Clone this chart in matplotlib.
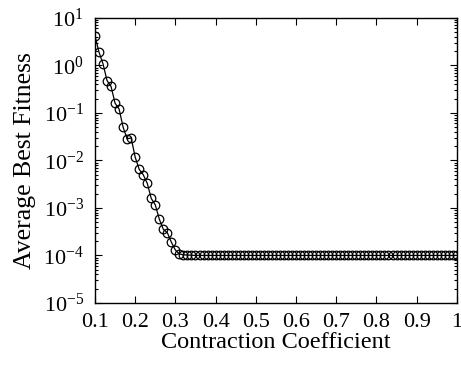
import matplotlib
matplotlib.use("Agg")
import matplotlib.pyplot as plt
from matplotlib.ticker import LogLocator, FixedLocator

plt.rcParams["font.family"] = ["Liberation Serif", "DejaVu Serif"]
plt.rcParams["mathtext.fontset"] = "custom"
plt.rcParams["mathtext.rm"] = "Liberation Serif"
plt.rcParams["mathtext.it"] = "Liberation Serif:italic"

# contraction coefficient 0.10 .. 1.00 step 0.01
coef = [round(0.10 + 0.01 * i, 2) for i in range(91)]

# (log scale)
fitness_head = [
    4.2, 1.9, 1.08, 0.48, 0.36, 0.16, 0.121, 0.050, 0.0284, 0.0298,
    0.0117, 0.0065, 0.0050, 0.0033, 0.00158, 0.00116, 5.8e-4, 3.55e-4,
    3.0e-4, 1.9e-4, 1.3e-4, 1.07e-4, 1.03e-4, 1.02e-4, 1.01e-4,
]
# flat plateau from 0.35 to 1.00
fitness_tail = [
    1.0e-4, 1.0e-4, 1.0e-4, 1.0e-4, 1.0e-4, 1.0e-4, 1.0e-4, 1.0e-4, 1.0e-4, 1.0e-4, 1.0e-4,
    1.0e-4, 1.0e-4, 1.0e-4, 1.0e-4, 1.0e-4, 1.0e-4, 1.0e-4, 1.0e-4, 1.0e-4, 1.0e-4, 1.0e-4,
    1.0e-4, 1.0e-4, 1.0e-4, 1.0e-4, 1.0e-4, 1.0e-4, 1.0e-4, 1.0e-4, 1.0e-4, 1.0e-4, 1.0e-4,
    1.0e-4, 1.0e-4, 1.0e-4, 1.0e-4, 1.0e-4, 1.0e-4, 1.0e-4, 1.0e-4, 1.0e-4, 1.0e-4, 1.0e-4,
    1.0e-4, 1.0e-4, 1.0e-4, 1.0e-4, 1.0e-4, 1.0e-4, 1.0e-4, 1.0e-4, 1.0e-4, 1.0e-4, 1.0e-4,
    1.0e-4, 1.0e-4, 1.0e-4, 1.0e-4, 1.0e-4, 1.0e-4, 1.0e-4, 1.0e-4, 1.0e-4, 1.0e-4, 1.0e-4,
]
fitness = fitness_head + fitness_tail

x_ticks = [0.1, 0.2, 0.3, 0.4, 0.5, 0.6, 0.7, 0.8, 0.9, 1.0]
x_tick_labels = ["0.1", "0.2", "0.3", "0.4", "0.5", "0.6", "0.7", "0.8", "0.9", "1"]

fig = plt.figure(figsize=(4.61, 3.65), dpi=100)
ax = fig.add_axes([0.206, 0.170, 0.785, 0.781])

ax.plot(coef, fitness, color="black", lw=0.9, marker="o", markersize=6.2,
        markerfacecolor="none", markeredgecolor="black", markeredgewidth=0.9)

ax.set_yscale("log")
ax.set_xlim(0.1, 1.0)
ax.set_ylim(1e-5, 1e1)
ax.xaxis.set_major_locator(FixedLocator(x_ticks))
ax.set_xticklabels(x_tick_labels)
ax.yaxis.set_major_locator(LogLocator(base=10, numticks=10))
ax.yaxis.set_minor_locator(LogLocator(base=10, subs=range(2, 10), numticks=10))

ax.tick_params(which="both", direction="in", top=True, right=True,
               labelsize=16, width=0.8)
ax.tick_params(axis="x", pad=7)
ax.tick_params(axis="y", pad=8)
ax.tick_params(which="major", length=5)
ax.tick_params(which="minor", length=2.5)
for s in ax.spines.values():
    s.set_linewidth(1.0)

ax.set_xlabel("Contraction Coefficient", fontsize=17.5, labelpad=0)
ax.set_ylabel("Average Best Fitness", fontsize=18.5, labelpad=5)

fig.savefig("out.png", dpi=100)
